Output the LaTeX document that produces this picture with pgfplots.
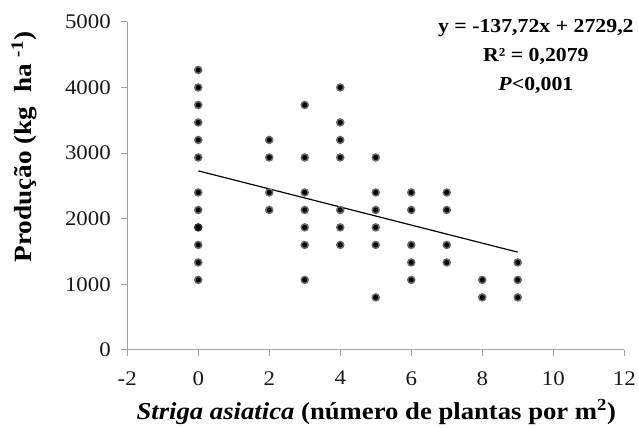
\documentclass[border=0pt]{standalone}
\usepackage{pgfplots}
\pgfplotsset{compat=1.18}
\usepackage{fontspec}
\setmainfont[FakeStretch=1.1]{Liberation Serif}
\definecolor{axgray}{RGB}{160,160,160}
\definecolor{ringgray}{RGB}{105,105,105}
\begin{document}
\begin{tikzpicture}
\begin{axis}[
  scale only axis, width=500bp, height=330bp,
  xmin=-2, xmax=12, ymin=0, ymax=5000,
  axis x line*=bottom, axis y line*=left,
  axis line style={draw=axgray, line width=1pt},
  tick style={draw=axgray, line width=1pt},
  tick align=outside, major tick length=6bp,
  xtick={-2,0,...,12}, ytick={0,1000,...,5000},
  /pgf/number format/assume math mode=true,
  /pgf/number format/1000 sep={},
  scaled y ticks=false,
  xticklabel={\pgfmathprintnumber{\tick}},
  yticklabel={\pgfmathprintnumber{\tick}},
  tick label style={font=\fontsize{21}{21}\selectfont, text=black!90},
  yticklabel style={xshift=-7bp},
  xticklabel style={yshift=-12bp},
  xlabel={\textbf{\textit{Striga asiatica} (número de plantas por m\textsuperscript{2})}},
  ylabel={\textbf{Produção (kg\ \ ha \textsuperscript{-1})}},
  xlabel style={at={(axis description cs:0.501,0)}, anchor=base, yshift=-70bp, font=\fontsize{24.5}{24.5}\selectfont},
  ylabel style={at={(axis description cs:-0.192,0.618)}, anchor=base, font=\fontsize{25}{25}\selectfont},
  clip=false,
]
\addplot[only marks, mark=*, mark size=3.5bp, mark options={fill=black, draw=ringgray, line width=1.5pt}] coordinates {
(0,1067) (0,1333) (0,1600) (0,2133) (0,2400) (0,2933) (0,3200) (0,3467) (0,3733) (0,4000) (0,4267)
(2,2133) (2,2400) (2,2933) (2,3200)
(3,1067) (3,1600) (3,1867) (3,2133) (3,2400) (3,2933) (3,3733)
(4,1600) (4,1867) (4,2133) (4,2933) (4,3200) (4,3467) (4,4000)
(5,800) (5,1600) (5,1867) (5,2133) (5,2400) (5,2933)
(6,1067) (6,1333) (6,1600) (6,2133) (6,2400)
(7,1333) (7,1600) (7,2133) (7,2400)
(8,800) (8,1067)
(9,800) (9,1067) (9,1333)
};
\addplot[only marks, mark=*, mark size=3.5bp, mark options={fill=black, draw=black!85, line width=1.5pt}] coordinates {(0,1867)};
\addplot[black, line width=1.2pt, no marks] coordinates {(0,2729.2) (9,1489.72)};
\node[align=center, font=\bfseries\fontsize{20}{29}\selectfont] at (axis cs:9.51,4470) {y = -137,72x + 2729,2\\R² = 0,2079\\\textit{P}<0,001};
\end{axis}
\path (current axis.south west) ++(-128bp,-76bp) rectangle ++(639bp,428bp);
\end{tikzpicture}
\end{document}
